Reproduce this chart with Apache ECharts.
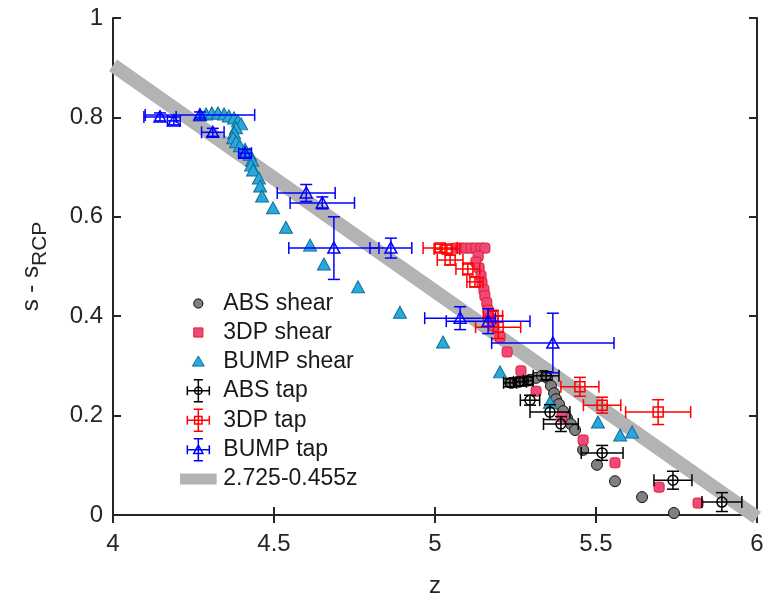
<!DOCTYPE html>
<html lang="en">
  <head>
    <meta charset="UTF-8" />
    <title>s - s_RCP vs z</title>
    <script src="https://cdn.jsdelivr.net/npm/echarts@6/dist/echarts.min.js"></script>
    <style>
      html, body { margin: 0; padding: 0; background: #fff; }
      #chart { width: 769px; height: 606px; }
    </style>
  </head>
  <body>
    <div id="chart"></div>
    <script>
      // axis ticks
      const xTicks = [4, 4.5, 5, 5.5, 6];
      const yTicks = [0, 0.2, 0.4, 0.6, 0.8, 1];

      // shear data: [z, s - s_RCP]
      const absShear = [
        [5.239, 0.266], [5.258, 0.268], [5.276, 0.27], [5.295, 0.272], [5.314, 0.276],
        [5.332, 0.28], [5.348, 0.276], [5.36, 0.26], [5.37, 0.245], [5.376, 0.233],
        [5.385, 0.223], [5.398, 0.209], [5.41, 0.195], [5.422, 0.183], [5.435, 0.171],
        [5.46, 0.131], [5.503, 0.101], [5.559, 0.068], [5.643, 0.036], [5.742, 0.004]
      ];
      const dpShear = [
        [5.065, 0.537], [5.081, 0.537], [5.096, 0.537], [5.112, 0.537], [5.127, 0.537],
        [5.143, 0.537], [5.155, 0.537], [5.134, 0.521], [5.127, 0.509], [5.137, 0.497],
        [5.143, 0.481], [5.146, 0.467], [5.152, 0.453], [5.155, 0.441], [5.161, 0.427],
        [5.165, 0.412], [5.171, 0.396], [5.183, 0.38], [5.202, 0.358], [5.224, 0.328],
        [5.267, 0.29], [5.314, 0.249], [5.394, 0.197], [5.46, 0.151], [5.559, 0.105],
        [5.696, 0.056], [5.817, 0.024]
      ];
      const bumpShear = [
        [4.27, 0.805], [4.289, 0.807], [4.307, 0.809], [4.326, 0.809], [4.345, 0.807],
        [4.36, 0.803], [4.376, 0.799], [4.388, 0.793], [4.398, 0.787], [4.382, 0.779],
        [4.376, 0.769], [4.373, 0.759], [4.382, 0.751], [4.394, 0.743], [4.41, 0.736],
        [4.425, 0.726], [4.432, 0.714], [4.429, 0.704], [4.435, 0.694], [4.453, 0.678],
        [4.457, 0.662], [4.463, 0.642], [4.497, 0.618], [4.537, 0.579], [4.612, 0.543],
        [4.655, 0.505], [4.761, 0.459], [4.891, 0.408], [5.025, 0.348], [5.202, 0.288],
        [5.357, 0.227], [5.506, 0.187], [5.575, 0.161], [5.612, 0.167]
      ];

      // tap data: [z, s - s_RCP, z error, s error]
      const absTap = [
        [5.233, 0.266, 0.02, 0.008], [5.264, 0.268, 0.02, 0.008], [5.289, 0.27, 0.015, 0.008],
        [5.345, 0.28, 0.04, 0.008], [5.295, 0.231, 0.03, 0.01], [5.357, 0.207, 0.062, 0.015],
        [5.391, 0.183, 0.054, 0.015], [5.519, 0.125, 0.065, 0.015], [5.739, 0.07, 0.059, 0.018],
        [5.891, 0.026, 0.062, 0.019]
      ];
      const dpTap = [
        [5.016, 0.537, 0.053, 0.008], [5.037, 0.535, 0.04, 0.008], [5.047, 0.513, 0.04, 0.01],
        [5.102, 0.495, 0.037, 0.012], [5.124, 0.469, 0.025, 0.01], [5.18, 0.4, 0.03, 0.012],
        [5.196, 0.378, 0.07, 0.023], [5.45, 0.258, 0.059, 0.019], [5.519, 0.221, 0.058, 0.016],
        [5.693, 0.207, 0.101, 0.025]
      ];
      const bumpTap = [
        [4.146, 0.801, 0.05, 0.008], [4.189, 0.793, 0.02, 0.008], [4.27, 0.805, 0.17, 0.006],
        [4.31, 0.77, 0.035, 0.008], [4.41, 0.728, 0.02, 0.008], [4.6, 0.648, 0.09, 0.017],
        [4.65, 0.628, 0.1, 0.012], [4.686, 0.537, 0.14, 0.063], [4.863, 0.537, 0.065, 0.02],
        [5.078, 0.396, 0.11, 0.023], [5.165, 0.39, 0.13, 0.025], [5.366, 0.346, 0.19, 0.06]
      ];

      // fit line 2.725 - 0.455z, end points
      const fitLine = [[4, 0.905], [6, -0.005]];

      const FONT = "Liberation Sans, Arial, Helvetica, sans-serif";
      const AXIS_COLOR = "#262626";
      const CLEAR = "rgba(0,0,0,0)";

      const errorbarRender = (marker, color) => (params, api) => {
        const z = api.value(0), s = api.value(1);
        const ez = api.value(2), es = api.value(3);
        const c = api.coord([z, s]);
        const l = api.coord([z - ez, s]);
        const r = api.coord([z + ez, s]);
        const t = api.coord([z, s + es]);
        const b = api.coord([z, s - es]);
        const cap = 6;
        const style = { stroke: color, lineWidth: 1.5, fill: "none" };
        const line = (x1, y1, x2, y2) => ({
          type: "line",
          shape: { x1, y1, x2, y2 },
          style,
        });
        let mark;
        if (marker === "circle") {
          mark = { type: "circle", shape: { cx: c[0], cy: c[1], r: 5 }, style };
        } else if (marker === "square") {
          mark = { type: "rect", shape: { x: c[0] - 5, y: c[1] - 5, width: 10, height: 10 }, style };
        } else {
          mark = {
            type: "polygon",
            shape: { points: [[c[0], c[1] - 6], [c[0] + 6, c[1] + 5], [c[0] - 6, c[1] + 5]] },
            style,
          };
        }
        return {
          type: "group",
          children: [
            line(l[0], l[1], r[0], r[1]),
            line(l[0], l[1] - cap, l[0], l[1] + cap),
            line(r[0], r[1] - cap, r[0], r[1] + cap),
            line(t[0], t[1], b[0], b[1]),
            line(t[0] - cap, t[1], t[0] + cap, t[1]),
            line(b[0] - cap, b[1], b[0] + cap, b[1]),
            mark,
          ],
        };
      };

      // legend icons (24x24 box, with extent points)
      const box = "M0 0M24 24";
      const crossPath = "M0 12L24 12M0 7L0 17M24 7L24 17M12 0L12 24M7 0L17 0M7 24L17 24";
      const icons = {
        circle: "path://" + box + "M17 12A5 5 0 1 1 7 12A5 5 0 1 1 17 12Z",
        square: "path://" + box + "M7 7L17 7L17 17L7 17Z",
        triangle: "path://" + box + "M12 6L18.5 17L5.5 17Z",
        absTap: "path://" + box + crossPath + "M16 12A4 4 0 1 1 8 12A4 4 0 1 1 16 12",
        dpTap: "path://" + box + crossPath + "M8 8L16 8L16 16L8 16Z",
        bumpTap: "path://" + box + crossPath + "M12 7L17 16L7 16Z",
        fit: "path://M0 0M40 24M0 6L40 6L40 18L0 18Z",
      };

      const axisCommon = {
        type: "value",
        axisLine: { show: true, lineStyle: { color: AXIS_COLOR, width: 2 } },
        axisTick: { show: true, inside: true, length: 8, lineStyle: { color: AXIS_COLOR, width: 2 } },
        splitLine: { show: false },
      };

      const option = {
        animation: false,
        textStyle: { fontFamily: FONT },
        grid: { left: 113, right: 12, top: 18, bottom: 91, containLabel: false },
        xAxis: [
          {
            ...axisCommon,
            min: xTicks[0],
            max: xTicks[xTicks.length - 1],
            interval: xTicks[1] - xTicks[0],
            name: "z",
            nameLocation: "middle",
            nameGap: 59,
            nameTextStyle: { fontSize: 24, color: AXIS_COLOR, fontFamily: FONT },
            axisLabel: { fontSize: 24, color: AXIS_COLOR, margin: 17, fontFamily: FONT },
          },
          {
            ...axisCommon,
            position: "top",
            min: xTicks[0],
            max: xTicks[xTicks.length - 1],
            interval: xTicks[1] - xTicks[0],
            axisLabel: { show: false },
          },
        ],
        yAxis: [
          {
            ...axisCommon,
            min: yTicks[0],
            max: yTicks[yTicks.length - 1],
            interval: yTicks[1] - yTicks[0],
            name: "{m|s - s}{sub|RCP}",
            nameLocation: "middle",
            nameGap: 62,
            nameTextStyle: {
              color: AXIS_COLOR,
              fontFamily: FONT,
              rich: {
                m: { fontSize: 24, lineHeight: 40, color: AXIS_COLOR, fontFamily: FONT },
                sub: { fontSize: 21, lineHeight: 40, verticalAlign: "bottom", color: AXIS_COLOR, fontFamily: FONT },
              },
            },
            axisLabel: { fontSize: 24, color: AXIS_COLOR, margin: 10, fontFamily: FONT },
          },
          {
            ...axisCommon,
            position: "right",
            min: yTicks[0],
            max: yTicks[yTicks.length - 1],
            interval: yTicks[1] - yTicks[0],
            axisLabel: { show: false },
          },
        ],
        legend: {
          orient: "vertical",
          left: 180,
          top: 292,
          itemWidth: 40,
          itemHeight: 22,
          itemGap: 6,
          padding: 0,
          selectedMode: false,
          textStyle: { fontSize: 23, lineHeight: 22, color: "#1a1a1a", fontFamily: FONT },
          data: [
            { name: "ABS shear", icon: icons.circle, itemStyle: { color: "#808080", borderColor: "#000", borderWidth: 1 } },
            { name: "3DP shear", icon: icons.square, itemStyle: { color: "#f0487a", borderColor: "#e0202c", borderWidth: 1 } },
            { name: "BUMP shear", icon: icons.triangle, itemStyle: { color: "#2aa8dc", borderColor: "#0e6f96", borderWidth: 1 } },
            { name: "ABS tap", icon: icons.absTap, itemStyle: { color: CLEAR, borderColor: "#000", borderWidth: 1.5 } },
            { name: "3DP tap", icon: icons.dpTap, itemStyle: { color: CLEAR, borderColor: "#ff0000", borderWidth: 1.5 } },
            { name: "BUMP tap", icon: icons.bumpTap, itemStyle: { color: CLEAR, borderColor: "#0000ff", borderWidth: 1.5 } },
            { name: "2.725-0.455z", icon: icons.fit, itemStyle: { color: "#b3b3b3", borderWidth: 0 } },
          ],
        },
        series: [
          {
            name: "2.725-0.455z",
            type: "line",
            data: fitLine,
            symbol: "none",
            clip: false,
            lineStyle: { color: "#b3b3b3", width: 14, cap: "butt" },
            z: 1,
          },
          {
            name: "ABS shear",
            type: "scatter",
            data: absShear,
            symbol: "circle",
            symbolSize: 11,
            itemStyle: { color: "#808080", borderColor: "#111", borderWidth: 1, opacity: 1 },
            z: 2,
          },
          {
            name: "3DP shear",
            type: "scatter",
            data: dpShear,
            symbol: "roundRect",
            symbolSize: 10,
            itemStyle: { color: "#f0487a", borderColor: "#e0202c", borderWidth: 1, opacity: 1 },
            z: 2,
          },
          {
            name: "BUMP shear",
            type: "scatter",
            data: bumpShear,
            symbol: "triangle",
            symbolSize: [13, 12],
            itemStyle: { color: "#2aa8dc", borderColor: "#0e6f96", borderWidth: 1, opacity: 1 },
            z: 2,
          },
          {
            name: "ABS tap",
            type: "custom",
            data: absTap,
            encode: { x: 0, y: 1 },
            renderItem: errorbarRender("circle", "#000000"),
            z: 3,
          },
          {
            name: "3DP tap",
            type: "custom",
            data: dpTap,
            encode: { x: 0, y: 1 },
            renderItem: errorbarRender("square", "#ff0000"),
            z: 3,
          },
          {
            name: "BUMP tap",
            type: "custom",
            data: bumpTap,
            encode: { x: 0, y: 1 },
            renderItem: errorbarRender("triangle", "#0000ff"),
            z: 3,
          },
        ],
      };

      const chart = echarts.init(document.getElementById("chart"));
      chart.setOption(option);
    </script>
  </body>
</html>
